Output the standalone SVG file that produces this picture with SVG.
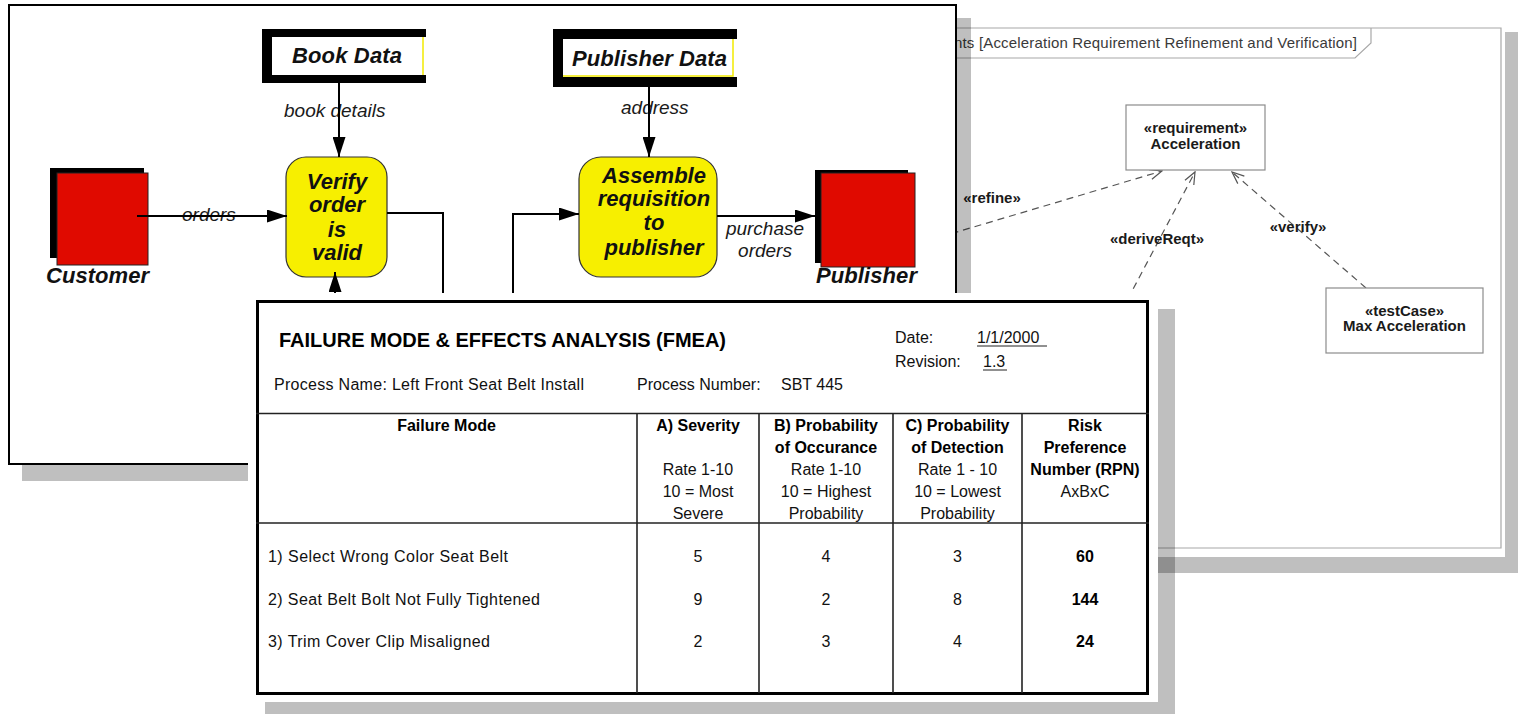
<svg xmlns="http://www.w3.org/2000/svg" width="1518" height="714" viewBox="0 0 1518 714">
  <defs>
    <style>
      .shadow { fill: #000; fill-opacity: 0.25; }
      .sheet { fill: #fff; }
      .node-label { font-family: "Liberation Sans", Arial, sans-serif; font-style: italic; font-weight: bold; font-size: 22px; fill: #111; }
      .flow-label { font-family: "Liberation Sans", Arial, sans-serif; font-style: italic; font-size: 19px; fill: #1a1a1a; }
      .flow { stroke: #000; stroke-width: 2; fill: none; }
      .process { fill: #f7ef00; stroke: #333; stroke-width: 1.2; }
      .entity-back { fill: #000; }
      .entity { fill: #e00a00; stroke: #222; stroke-width: 1; }
      .store-bar { fill: #000; }
      .store-edge { stroke: #f2ea00; stroke-width: 1.5; fill: none; }
      .sys-frame { fill: none; stroke: #a8a8a8; stroke-width: 1.2; }
      .sys-title { font-family: "Liberation Sans", Arial, sans-serif; font-size: 15px; fill: #3a3a3a; }
      .sys-box { fill: #fff; stroke: #8c8c8c; stroke-width: 1.2; }
      .sys-text { font-family: "Liberation Sans", Arial, sans-serif; font-weight: bold; font-size: 15px; fill: #1a1a1a; text-anchor: middle; }
      .dep { stroke: #555; stroke-width: 1.2; stroke-dasharray: 7 5; fill: none; marker-end: url(#open); }
      .t { font-family: "Liberation Sans", Arial, sans-serif; font-size: 16px; fill: #111; }
      .tb { font-family: "Liberation Sans", Arial, sans-serif; font-size: 16px; font-weight: bold; fill: #000; }
      .title { font-family: "Liberation Sans", Arial, sans-serif; font-size: 20px; font-weight: bold; fill: #000; }
      .c { text-anchor: middle; }
      .grid { stroke: #222; stroke-width: 1.6; }
      .uline { stroke: #222; stroke-width: 1; }
    </style>
    <marker id="solid" markerUnits="userSpaceOnUse" viewBox="0 0 20 13" markerWidth="20" markerHeight="13" refX="20" refY="6.5" orient="auto">
      <path d="M0,0 L20,6.5 L0,13 z" fill="#000"/>
    </marker>
    <marker id="open" markerUnits="userSpaceOnUse" viewBox="0 0 14 12" markerWidth="14" markerHeight="12" refX="13" refY="6" orient="auto">
      <path d="M1,1 L13,6 L1,11" fill="none" stroke="#555" stroke-width="1.2"/>
    </marker>
  </defs>

  <!-- SysML requirements sheet (back) -->
  <g id="sysml-sheet">
    <rect class="shadow" x="945" y="32" width="573" height="541"/>
    <rect class="sheet" x="930" y="18" width="575" height="539"/>
    <path class="sys-frame" d="M930,28 H1501 V548 H930"/>
    <path class="sys-frame" d="M930,58 H1355 L1371,43 V28"/>
    <text class="sys-title" x="954" y="48" textLength="403">nts [Acceleration Requirement Refinement and Verification]</text>
  </g>
  <g id="sysml-connectors">
    <path class="dep" d="M940,237 L1162,171"/>
    <path class="dep" d="M1122,310 L1195,172"/>
    <path class="dep" d="M1366,288 L1232,172"/>
    <text class="sys-text" x="992" y="203">«refine»</text>
    <text class="sys-text" x="1157" y="244">«deriveReqt»</text>
    <text class="sys-text" x="1298" y="232">«verify»</text>
  </g>
  <g id="req-acceleration">
    <rect class="sys-box" x="1126" y="105" width="139" height="65"/>
    <text class="sys-text" x="1195.5" y="133">«requirement»</text>
    <text class="sys-text" x="1195.5" y="149">Acceleration</text>
  </g>
  <g id="test-max-acceleration">
    <rect class="sys-box" x="1326" y="288" width="157" height="65"/>
    <text class="sys-text" x="1404.5" y="316">«testCase»</text>
    <text class="sys-text" x="1404.5" y="331">Max Acceleration</text>
  </g>

  <!-- Data flow diagram sheet (middle) -->
  <g id="dfd-sheet">
    <rect class="shadow" x="22" y="18" width="949" height="463"/>
    <rect x="9" y="5" width="947" height="459" fill="#fff" stroke="#000" stroke-width="2"/>
  </g>
  <g id="store-book-data">
    <rect class="store-bar" x="262" y="29" width="164" height="8"/>
    <rect class="store-bar" x="262" y="75" width="164" height="8"/>
    <rect class="store-bar" x="262" y="29" width="10" height="54"/>
    <path class="store-edge" d="M423,37 V75"/>
    <text class="node-label" x="292" y="63" textLength="110">Book Data</text>
  </g>
  <g id="store-publisher-data">
    <rect class="store-bar" x="553" y="29" width="184" height="10"/>
    <rect class="store-bar" x="553" y="77" width="184" height="10"/>
    <rect class="store-bar" x="553" y="29" width="10" height="58"/>
    <path class="store-edge" d="M733,39 V76 H563"/>
    <text class="node-label" x="572" y="66" textLength="155">Publisher Data</text>
  </g>
  <g id="entity-customer">
    <rect class="entity-back" x="50" y="168" width="94" height="90"/>
    <rect class="entity" x="57" y="173" width="91" height="92"/>
    <text class="node-label" x="46" y="283" textLength="103">Customer</text>
  </g>
  <g id="entity-publisher">
    <rect class="entity-back" x="815" y="170" width="93" height="93"/>
    <rect class="entity" x="821" y="173" width="94" height="94"/>
    <text class="node-label" x="816" y="283" textLength="101">Publisher</text>
  </g>
  <g id="process-verify-order">
    <rect class="process" x="286" y="157" width="101" height="120" rx="20"/>
    <text class="node-label c" x="337" y="189">Verify</text>
    <text class="node-label c" x="337" y="212">order</text>
    <text class="node-label c" x="337" y="237">is</text>
    <text class="node-label c" x="337" y="260">valid</text>
  </g>
  <g id="process-assemble-requisition">
    <rect class="process" x="579" y="157" width="138" height="120" rx="22"/>
    <text class="node-label c" x="654" y="183">Assemble</text>
    <text class="node-label c" x="654" y="206">requisition</text>
    <text class="node-label c" x="654" y="230">to</text>
    <text class="node-label c" x="654" y="255">publisher</text>
  </g>
  <g id="dfd-connectors">
    <text class="flow-label" x="284" y="117">book details</text>
    <text class="flow-label" x="182" y="221">orders</text>
    <text class="flow-label" x="621" y="114">address</text>
    <text class="flow-label c" x="765" y="235">purchase</text>
    <text class="flow-label c" x="765" y="257">orders</text>
    <path class="flow" d="M339,83 V157" marker-end="url(#solid)"/>
    <path class="flow" d="M137,216 H287" marker-end="url(#solid)"/>
    <path class="flow" d="M387,213 H443 V300"/>
    <path class="flow" d="M335,300 V272" marker-end="url(#solid)"/>
    <path class="flow" d="M513,300 V214 H579" marker-end="url(#solid)"/>
    <path class="flow" d="M649,87 V157" marker-end="url(#solid)"/>
    <path class="flow" d="M717,216 H815" marker-end="url(#solid)"/>
  </g>

  <!-- FMEA worksheet (front) -->
  <g id="fmea-sheet">
    <rect class="shadow" x="265" y="309" width="910" height="410"/>
    <rect class="sheet" x="248" y="293" width="910" height="409"/>
    <rect x="257.5" y="301.5" width="890" height="392" fill="none" stroke="#000" stroke-width="3"/>
  </g>
  <g id="fmea-header">
    <text class="title" x="279" y="347" textLength="447">FAILURE MODE &amp; EFFECTS ANALYSIS (FMEA)</text>
    <text class="t" x="895" y="343">Date:</text>
    <text class="t" x="977" y="343">1/1/2000</text>
    <line class="uline" x1="977" y1="346" x2="1047" y2="346"/>
    <text class="t" x="895" y="367">Revision:</text>
    <text class="t" x="983" y="367">1.3</text>
    <line class="uline" x1="983" y1="370" x2="1007" y2="370"/>
    <text class="t" x="274" y="390" textLength="310">Process Name: Left Front Seat Belt Install</text>
    <text class="t" x="637" y="390">Process Number: <tspan x="781">SBT 445</tspan></text>
  </g>
  <g id="fmea-grid">
    <line class="grid" x1="256" y1="413.5" x2="1149" y2="413.5"/>
    <line class="grid" x1="256" y1="523" x2="1149" y2="523"/>
    <line class="grid" x1="637" y1="413" x2="637" y2="693"/>
    <line class="grid" x1="759" y1="413" x2="759" y2="693"/>
    <line class="grid" x1="893" y1="413" x2="893" y2="693"/>
    <line class="grid" x1="1022" y1="413" x2="1022" y2="693"/>
  </g>
  <g id="fmea-columns">
    <text class="tb c" x="446.5" y="431">Failure Mode</text>

    <text class="tb c" x="698" y="431">A) Severity</text>
    <text class="t c" x="698" y="475">Rate 1-10</text>
    <text class="t c" x="698" y="497">10 = Most</text>
    <text class="t c" x="698" y="519">Severe</text>

    <text class="tb c" x="826" y="431">B) Probability</text>
    <text class="tb c" x="826" y="453">of Occurance</text>
    <text class="t c" x="826" y="475">Rate 1-10</text>
    <text class="t c" x="826" y="497">10 = Highest</text>
    <text class="t c" x="826" y="519">Probability</text>

    <text class="tb c" x="957.5" y="431">C) Probability</text>
    <text class="tb c" x="957.5" y="453">of Detection</text>
    <text class="t c" x="957.5" y="475">Rate 1 - 10</text>
    <text class="t c" x="957.5" y="497">10 = Lowest</text>
    <text class="t c" x="957.5" y="519">Probability</text>

    <text class="tb c" x="1085" y="431">Risk</text>
    <text class="tb c" x="1085" y="453">Preference</text>
    <text class="tb c" x="1085" y="475">Number (RPN)</text>
    <text class="t c" x="1085" y="497">AxBxC</text>
  </g>
  <g id="fmea-rows">
    <text class="t" x="268" y="562" textLength="240">1) Select Wrong Color Seat Belt</text>
    <text class="t c" x="698" y="562">5</text>
    <text class="t c" x="826" y="562">4</text>
    <text class="t c" x="957.5" y="562">3</text>
    <text class="tb c" x="1085" y="562">60</text>

    <text class="t" x="268" y="605" textLength="272">2) Seat Belt Bolt Not Fully Tightened</text>
    <text class="t c" x="698" y="605">9</text>
    <text class="t c" x="826" y="605">2</text>
    <text class="t c" x="957.5" y="605">8</text>
    <text class="tb c" x="1085" y="605">144</text>

    <text class="t" x="268" y="647" textLength="222">3) Trim Cover Clip Misaligned</text>
    <text class="t c" x="698" y="647">2</text>
    <text class="t c" x="826" y="647">3</text>
    <text class="t c" x="957.5" y="647">4</text>
    <text class="tb c" x="1085" y="647">24</text>
  </g>
</svg>
